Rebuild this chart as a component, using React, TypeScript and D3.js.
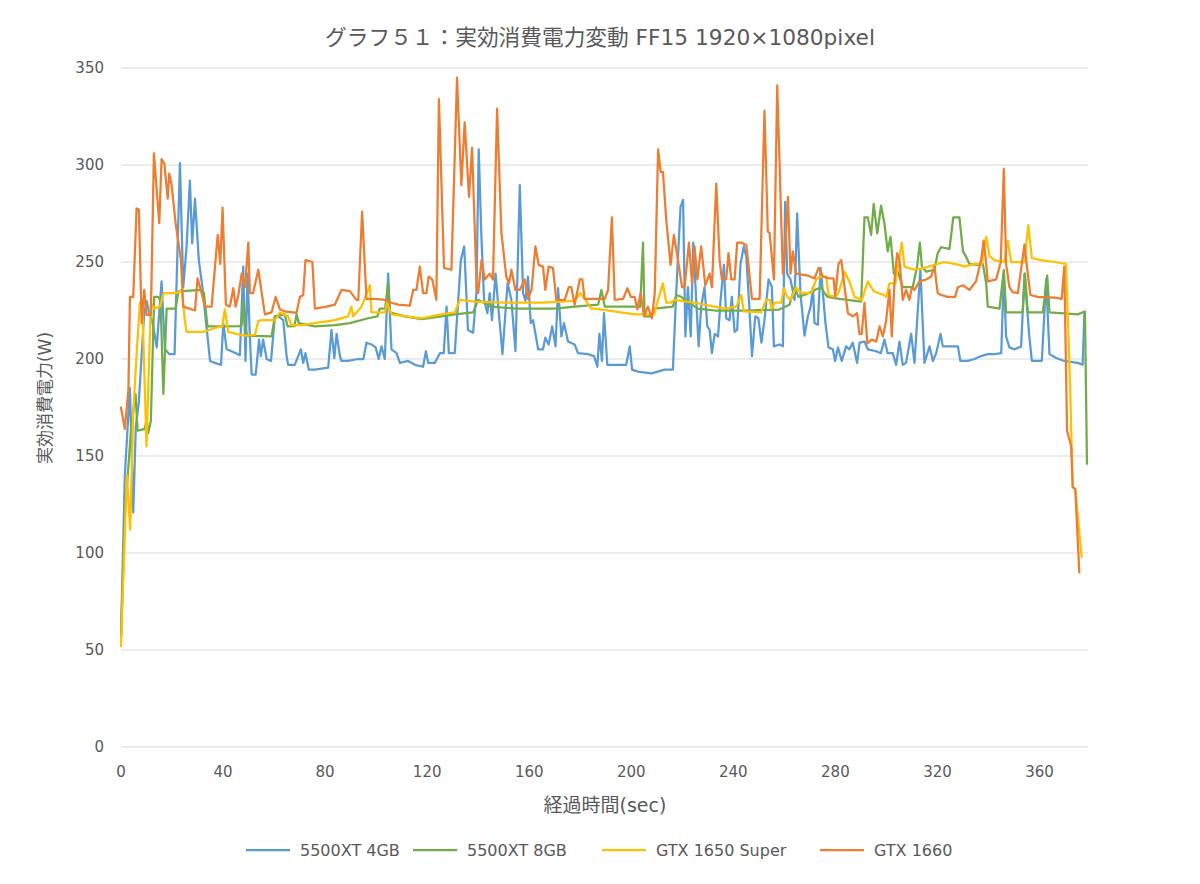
import React from "react";
import * as d3 from "d3";

type P = [number, number];

const seriesNames = ["5500XT 4GB", "5500XT 8GB", "GTX 1650 Super", "GTX 1660"];
const seriesColors = ["#5B9BD5", "#70AD47", "#FFC000", "#ED7D31"];
const xTicks = [0, 40, 80, 120, 160, 200, 240, 280, 320, 360];
const yTicks = [0, 50, 100, 150, 200, 250, 300, 350];

const rx5500_4gb: P[] = [[0,57],[1.5,140],[3.5,185],[4.8,121],[5.8,165],[7,178],[8,200],[9,222],[10,230],[11,224],[12.5,218],[14,206],[15.9,240],[17.2,205],[19,202.5],[21,202.5],[23.1,301],[24.4,237],[25.7,258],[27,292],[27.9,259.6],[29,282.7],[30.5,251],[31.9,237],[33.5,216.8],[34.9,199],[36.8,198],[39.2,197],[40.1,218.5],[41.4,205],[43.3,204],[46.6,202],[47.9,247.6],[48.8,199],[49.6,244],[50.5,211.5],[51.2,192],[52.8,192],[54.1,210],[54.8,201.5],[55.7,210],[57.1,200],[58.8,199],[60.3,222],[61.6,222],[63.6,220],[64.9,201.5],[65.5,197],[68.1,197],[70.5,205],[71.4,198],[72.3,203],[73.6,194.5],[76,194.5],[81.2,195.5],[82.5,215],[83.6,200.5],[84.5,213],[85.8,201.5],[86.4,199],[89,199],[93,200],[95,200],[96.2,208.4],[98.2,207.5],[99.8,206],[101,200],[102.1,206.5],[103.4,200],[104.7,244],[106,205],[108,203],[109.3,198],[112.5,199],[115.2,197],[118.4,196],[119.5,204],[120.4,198],[123,198],[125,203],[126.5,203],[127.6,227],[128.5,203],[130.8,203],[133.2,251],[134.5,258],[136,215],[138,213.5],[139.3,234],[140.2,308],[141.2,265],[142.3,230.5],[143.6,223.6],[144.5,234],[145.4,220],[146.8,244],[148,225],[149.5,202.5],[151.5,239],[153,230.5],[154.6,204],[156.3,289.6],[157.6,234],[158.5,230],[159.5,242.5],[160.6,218.5],[161.5,220],[163.5,205],[165.4,205],[166.3,211],[167.6,207.5],[169,216.8],[170.3,206.5],[171.3,236.5],[172.6,211.6],[173.6,218.5],[175.2,209],[177.8,207.5],[179.1,203],[183,202.5],[185.4,201.5],[186.7,196],[187.5,213],[188.5,199],[189.3,223.6],[190.6,197],[198,197],[199.4,206.5],[200.3,194.5],[202.6,193.5],[207.9,192.6],[213.1,194.5],[216.3,194.5],[217.6,234],[219.3,278.4],[220.3,282],[221.2,211.6],[222.2,237],[223.3,211.6],[224.3,260],[225.3,234],[226.4,206.5],[227.4,227],[228.7,237],[229.8,216.8],[230.7,215],[231.6,203],[232.7,213],[234,211.6],[235,230.5],[236.3,248.5],[237.2,221],[238.5,220],[239.4,232],[240.5,214],[241.5,215],[242.8,249],[244.1,258],[245.1,252.6],[246.4,223.6],[247.3,201.5],[248.6,222],[249.8,221],[251,208.4],[252.2,220],[253.8,241],[255.1,237],[255.9,206.5],[258.1,207.5],[259.4,206.5],[260.3,281],[261.1,244],[262.4,241],[264,230.5],[265,275],[266.3,234],[267.9,212],[269.2,222],[270.3,227],[271.2,237],[271.8,218.5],[273.1,217.6],[274.2,247],[275.1,234],[276.1,218.5],[277.3,206],[279,205],[279.9,199],[281,206],[282.5,199],[284.2,206.5],[285.5,205],[286.8,208.4],[288.5,198],[289.5,208.4],[291.4,209],[292.7,205],[296,204],[297.8,203],[299.2,210],[300.5,203],[302.5,203],[303.8,197],[305.1,209],[306.4,197],[307.7,198],[309.7,213],[311,198],[313.3,246],[314.9,198],[316.9,206.5],[318.2,199],[319.5,203],[321.2,213],[322.1,206.5],[325.3,206.5],[328,206.5],[329,199],[331.9,199],[334.5,200],[337.1,201.5],[339.7,202.5],[342.3,202.5],[345,203],[346,244],[346.9,211.6],[348.2,206],[350.2,205],[352.8,206.5],[354.1,244],[356,211.6],[357,199],[360.9,199],[362.6,241],[363.9,202.5],[366.5,200.5],[369.7,199],[375,198],[376.9,197],[377.6,224]];

const rx5500_8gb: P[] = [[0,57],[1.5,120],[2.9,144.5],[4,165],[5.7,182],[6.5,163],[9.3,164],[10.1,169],[10.6,161.6],[11.7,168],[13,232],[14.6,232],[15.5,230],[16.6,182],[17.9,226],[21.4,226],[22.5,234.8],[31.6,235.6],[32.5,234],[33.9,216.8],[40.1,216.8],[46.6,217],[47.3,217.5],[47.8,230],[48.6,217],[49.5,212],[59,211.6],[60.3,222],[64.2,223],[65.3,216.8],[68,217],[68.8,223],[69.7,218.5],[76,216.8],[83.8,217.5],[89.7,218.5],[96.9,221],[100.5,222],[101.4,226],[103.5,226],[104.7,239],[105.4,224],[111.2,222],[117.8,220.5],[125.6,222],[130.8,223],[138,224],[140,230.5],[145,227],[155,226],[170,226],[177.8,227],[187,228],[188.3,235.6],[189.6,227],[203.5,227],[204.6,260],[205.2,222],[207.5,222],[209.2,226],[216.3,227],[217.6,233],[219.6,232],[220.9,230.5],[226.1,226],[232.7,225],[245,225],[258,225.5],[262,228],[264,237],[265.5,232],[267.9,233],[271.8,235.6],[274.4,237],[275.7,234],[277,232],[281.6,231],[290.1,229.6],[291.4,273],[292.7,273],[294,264],[295,280],[296.4,264.7],[297.9,279],[299.2,270],[300.5,255.5],[301.6,263],[302.9,244],[304.5,245],[306.4,237],[310.3,237],[312,247.6],[313.1,260],[313.9,247.6],[315.6,245],[318.8,246],[320.1,254.6],[321.4,257.6],[324.7,256.8],[326.2,273],[328.6,273],[330,255.5],[331.2,252.8],[332.5,249],[335.8,248.5],[337.8,249],[339.1,239],[339.7,227],[344.3,226],[346,246],[346.9,224],[353.4,224],[354.3,244],[355.4,224],[361.3,224],[363,243],[363.9,224],[375,223],[377.8,224.5],[378.6,146]];

const gtx1650s: P[] = [[0,52],[2.3,140],[3.6,112],[4.8,172],[6,200],[7.4,229],[8.4,226],[10,155],[11.7,229],[13,226],[15.3,227],[16.7,234],[21.8,234],[23.8,235.6],[25,220],[25.7,214],[32.3,214],[36.8,216],[39.7,216.8],[40.7,225.6],[42,214],[46.6,212.5],[48.6,212],[52.5,212.5],[53.8,219.5],[55.1,220],[60.3,220],[62.3,224],[65.5,222],[66.8,217.5],[70.8,217.5],[76,218.5],[83.8,220],[89,222],[90.3,227],[91,222],[94.3,227],[97.5,238],[98.2,224],[101.4,224],[103.5,224],[104.2,229],[106,223],[117.8,221],[125.6,223],[130.8,224],[132.8,230.5],[138.7,229.6],[150,229],[165,229],[177.8,230],[180,234],[181.7,231],[184.3,226],[185.7,226],[201.3,223],[209,223],[210.5,230.5],[212.4,239],[213.7,229],[215.5,229],[217,230.5],[224.8,229],[232.7,227],[236.6,226],[241.1,227],[243.1,233],[244.1,224.5],[250.9,224],[252.9,230.5],[254.3,230.5],[255,226],[256.2,229],[258.8,229],[259.8,236.5],[261.1,232],[262.4,230.5],[264.6,237],[266.6,234],[270.5,234],[272.5,241],[274.2,242.5],[276.4,242.5],[277.3,233],[279.7,232],[281.2,234],[283.6,245],[285.5,240],[287.5,232],[289.4,231],[290.4,230.5],[292.7,240],[295.1,234.8],[299,233],[299.9,232],[301.2,239],[303.5,239],[306,260],[307.1,247.6],[311,246],[314.9,247],[318.8,248.5],[322.7,250],[328.6,248.5],[330.6,247.6],[334.5,249],[337.4,249],[339.1,263],[340.4,253],[342.3,251],[346.2,250],[347.5,261],[348.9,250],[354.1,250],[355.6,269],[357,252],[360.6,251],[365.8,250],[370.4,249],[372,185],[373,134],[374,133],[376.5,98]];

const gtx1660: P[] = [[0,175],[1.5,164],[2.9,184],[3.5,232],[4.8,232],[6.1,277.6],[7,277],[8.1,218.5],[9.1,235.6],[10,222.7],[11.7,222.7],[12.9,306],[15,270],[15.9,303],[17,300.7],[18.3,282.7],[18.9,295.5],[19.8,290],[21.4,270],[23.5,251],[24.4,227],[29,225],[30,241.6],[31.3,235.6],[32.9,227],[35.5,227],[37.9,264],[38.9,249],[39.8,278],[41.1,228],[42.7,227],[44,236.5],[44.9,227],[46,233],[47.3,244],[48.6,237],[49.9,260],[50.5,234],[51.8,234],[53.8,246],[56.4,223],[59,224],[60.6,232],[62.3,225.6],[64.2,224.5],[68.8,223.8],[70.1,232],[71.4,233],[72.3,251],[75,250],[76,226],[80.5,227],[83.8,228],[86.4,235.6],[89.7,235],[92.3,230.5],[93,230.5],[94.5,276],[96.2,231],[99.5,231],[103.4,230.5],[106,229],[108.6,228],[113.2,227.5],[114.5,235.6],[115.8,235.6],[117.1,247.6],[118.4,234],[119.7,234],[120.6,242.5],[122,241],[123.6,230.5],[124.6,334],[126.6,247],[129.5,246],[131.7,345],[133.4,289.6],[134.7,322],[136.4,283.6],[137.6,309],[139.4,237],[140,234],[141.3,251],[142.6,241],[144.5,244],[145.8,241],[147.4,329],[149.1,265],[151,242.5],[152.1,239],[153,246],[154.6,235.6],[156.3,235.6],[158.2,241],[159.5,231],[160.9,235.6],[162.4,258],[163.7,248.5],[165.4,247.6],[166.3,235.6],[167.6,247.6],[169.3,247],[170.6,230.5],[173.9,230.5],[175.5,237],[176.5,237],[177.8,228],[179.8,241],[180.8,241],[181.7,231],[189.6,231],[190.9,235.6],[192.4,273],[193.5,230.5],[196.8,231],[198.5,236.5],[199.8,232],[201.3,232],[202.4,225.6],[203.7,234],[205,222],[206.5,227],[208.1,221],[209.2,234],[210.5,308],[211.5,296.5],[212.4,296.5],[213.7,271.6],[215.4,248.5],[216.7,264],[218.3,251],[219.9,237],[220.9,237],[222.6,260],[223.8,239],[224.8,258],[225.9,241],[227.4,258],[229,238],[230.7,244],[231.6,237],[233.3,290.4],[234.6,251],[235.5,241],[237.2,241],[238.1,254.6],[239.2,241],[240.5,241],[241.5,260],[243.1,260],[245.1,258.6],[247.3,231],[250.3,231],[252.2,328],[253.5,265.7],[254.2,265],[255.9,241],[257.2,341],[259.4,244],[260.3,258],[261.4,283.6],[262.4,244],[263.3,255.5],[264.6,244],[269.2,243],[271.8,241.5],[273.4,247],[275.1,242.5],[277.7,241.5],[279.3,241.5],[279.9,232],[281.2,249],[282.3,251],[283.6,237],[284.9,223.6],[286.8,222],[288.5,223.6],[289.4,213],[290.3,213],[291.4,229],[292.5,208],[294.3,210],[296,209],[297.3,216.8],[298.6,211.6],[299.9,220],[301.2,235.6],[302.1,211.6],[303.2,241],[304.2,254.6],[305.1,251],[306.4,230.5],[307.7,235.6],[309,230.5],[310,237],[311,235.6],[313,240],[315.6,241],[317.5,242.5],[318.8,247.6],[320.1,234],[321.4,233],[324,232],[326.9,232],[328,237],[330,238],[332.5,235.6],[335.1,240],[337.1,251],[338.1,261],[339.1,249],[339.7,240],[343,241],[344.8,250],[346,298],[346.9,249],[348.2,237],[349.5,234.5],[351.5,234],[354.1,259],[355.4,244],[356.4,233],[359.3,232],[365.8,231.7],[368.7,231],[369.7,247.6],[370.8,163],[372.4,155],[373,134],[374,133],[375.6,90]];

const seriesData: P[][] = [rx5500_4gb, rx5500_8gb, gtx1650s, gtx1660];

const titleText = "グラフ５１：実効消費電力変動 FF15 1920×1080pixel";
const xTitle = "経過時間(sec)";
const yTitle = "実効消費電力(W)";

const FONT = "'DejaVu Sans', 'Noto Sans CJK JP', sans-serif";
const TXT = "#595959";

export default function App() {
  const W = 1200, H = 884;
  const x = d3.scaleLinear().domain([0, 379]).range([121, 1088]);
  const y = d3.scaleLinear().domain([0, 350]).range([747, 68]);
  const line = d3.line<P>().x(d => x(d[0])).y(d => y(d[1]));
  const legendX = [246, 413, 602, 820];

  return (
    <svg width={W} height={H} style={{ position: "absolute", left: 0, top: 0, background: "#fff" }} fontFamily={FONT}>
      <rect x={0} y={0} width={W} height={H} fill="#fff" />
      <text x={600} y={45} textAnchor="middle" fontSize={21.7} fill={TXT}>{titleText}</text>
      {yTicks.map(t => (
        <g key={t}>
          <line x1={121} x2={1088} y1={y(t)} y2={y(t)} stroke="#D9D9D9" strokeWidth={1} />
          <text x={104} y={y(t)} dy="0.35em" textAnchor="end" fontSize={15} fill={TXT}>{t}</text>
        </g>
      ))}
      {xTicks.map(t => (
        <text key={t} x={x(t)} y={777} textAnchor="middle" fontSize={15} fill={TXT}>{t}</text>
      ))}
      <text x={605} y={812} textAnchor="middle" fontSize={19} fill={TXT}>{xTitle}</text>
      <text transform="translate(51,398) rotate(-90)" textAnchor="middle" fontSize={17} fill={TXT}>{yTitle}</text>
      {seriesData.map((d, i) => (
        <path key={i} d={line(d) || ""} fill="none" stroke={seriesColors[i]} strokeWidth={2.25} strokeLinejoin="round" strokeLinecap="round" />
      ))}
      {seriesNames.map((n, i) => (
        <g key={n}>
          <line x1={legendX[i]} x2={legendX[i] + 44} y1={850} y2={850} stroke={seriesColors[i]} strokeWidth={2.25} />
          <text x={legendX[i] + 54} y={850} dy="0.35em" fontSize={16} fill={TXT}>{n}</text>
        </g>
      ))}
    </svg>
  );
}
